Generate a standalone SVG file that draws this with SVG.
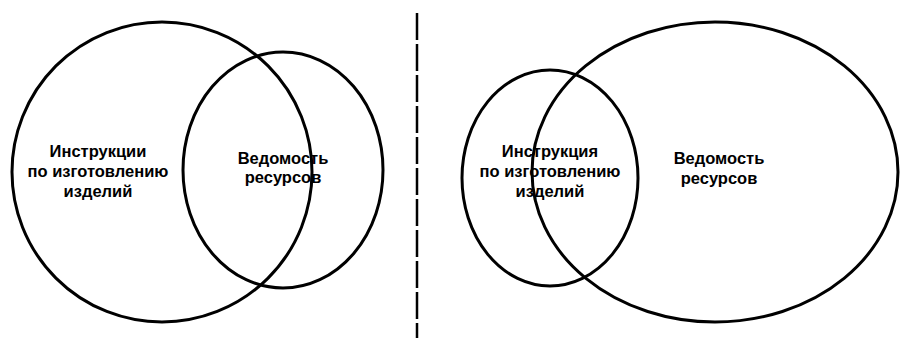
<svg xmlns="http://www.w3.org/2000/svg" width="901" height="340" viewBox="0 0 901 340">
<style>
.shape{fill:none;stroke:#000;stroke-width:3}
.lbl{font-family:"Liberation Sans",Arial,sans-serif;font-size:16.5px;font-weight:bold;fill:#000;text-anchor:middle}
.sep{stroke:#000;stroke-width:2.5;stroke-dasharray:27 4}
</style>
<rect width="901" height="340" fill="#fff"/>
<g id="left-instructions">
<circle class="shape" cx="162" cy="172" r="150"/>
<text class="lbl" x="98" y="157">Инструкции</text>
<text class="lbl" x="98" y="177">по изготовлению</text>
<text class="lbl" x="98" y="197">изделий</text>
</g>
<g id="left-resources">
<ellipse class="shape" cx="283" cy="170" rx="100" ry="118"/>
<text class="lbl" x="283" y="164">Ведомость</text>
<text class="lbl" x="283" y="183">ресурсов</text>
</g>
<g id="separator">
<line class="sep" x1="417" y1="13" x2="417" y2="338"/>
</g>
<g id="right-instructions">
<ellipse class="shape" cx="550" cy="178" rx="88" ry="108"/>
<text class="lbl" x="550" y="157">Инструкция</text>
<text class="lbl" x="550" y="177">по изготовлению</text>
<text class="lbl" x="550" y="197">изделий</text>
</g>
<g id="right-resources">
<ellipse class="shape" cx="715" cy="172" rx="183" ry="150"/>
<text class="lbl" x="719" y="164">Ведомость</text>
<text class="lbl" x="719" y="184">ресурсов</text>
</g>
</svg>
